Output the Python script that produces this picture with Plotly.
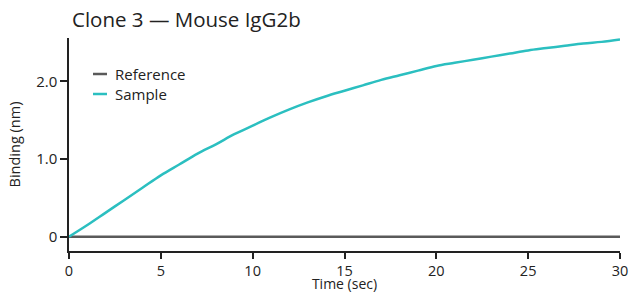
import plotly.graph_objects as go

# Data
time_sec = [0, 1, 2, 3, 4, 5, 6, 7, 8, 9, 10, 11, 12, 13, 14, 15,
            16, 17, 18, 19, 20, 21, 22, 23, 24, 25, 26, 27, 28, 29, 30]
sample_nm = [0.00, 0.15, 0.31, 0.47, 0.63, 0.79, 0.93, 1.07, 1.19, 1.32,
             1.43, 1.54, 1.64, 1.73, 1.81, 1.88, 1.95, 2.02, 2.08, 2.14,
             2.20, 2.24, 2.28, 2.32, 2.36, 2.40, 2.43, 2.46, 2.49, 2.51, 2.54]
reference_nm = [0.0] * len(time_sec)

series_names = ["Reference", "Sample"]
series_colors = ["#5a5a5a", "#2bbfc0"]

x_ticks = [0, 5, 10, 15, 20, 25, 30]
y_ticks = [0, 1.0, 2.0]
y_tick_labels = ["0", "1.0", "2.0"]

FONT = "'Open Sans', sans-serif"
TEXT = "#222222"

fig = go.Figure()
fig.add_trace(go.Scatter(x=time_sec, y=reference_nm, mode="lines",
                         name=series_names[0], showlegend=False,
                         line=dict(color=series_colors[0], width=2.5)))
fig.add_trace(go.Scatter(x=time_sec, y=sample_nm, mode="lines",
                         name=series_names[1], showlegend=False,
                         line=dict(color=series_colors[1], width=2.5, shape="spline")))

# Custom compact legend (short line swatches)
W, H = 633, 293
ml, mr, mt, mb = 69, 13, 38, 42
pw, ph = W - ml - mr, H - mt - mb
def px(xp):
    return (xp - ml) / pw
def py(yp):
    return (H - mb - yp) / ph

legend_rows = [74, 94]
for name, color, yrow in zip(series_names, series_colors, legend_rows):
    fig.add_shape(type="line", xref="paper", yref="paper",
                  x0=px(93), x1=px(107), y0=py(yrow), y1=py(yrow),
                  line=dict(color=color, width=2.5))
    fig.add_annotation(xref="paper", yref="paper", x=px(113), y=py(yrow),
                       text=name, showarrow=False, xanchor="left", yanchor="middle",
                       font=dict(family=FONT, size=15, color=TEXT))

fig.update_layout(
    width=W, height=H,
    margin=dict(l=ml, r=mr, t=mt, b=mb, autoexpand=False),
    paper_bgcolor="white", plot_bgcolor="white",
    title=dict(text="Clone 3 — Mouse IgG2b", x=72 / W, xanchor="left",
               y=1 - 20 / H, yanchor="middle", yref="container",
               font=dict(family=FONT, size=20.5, color=TEXT)),
    font=dict(family=FONT, size=14, color=TEXT),
    showlegend=False,
)
fig.update_xaxes(range=[0, 30], tickvals=x_ticks, showgrid=False, zeroline=False,
                 automargin=False,
                 showline=True, linecolor="#222222", linewidth=1.5,
                 ticks="outside", ticklen=6, tickwidth=1.5, tickcolor="#222222",
                 title=dict(text="Time (sec)", standoff=1,
                            font=dict(family=FONT, size=14, color=TEXT)),
                 tickfont=dict(family=FONT, size=14.5, color=TEXT))
fig.update_yaxes(range=[-0.185, 2.56], tickvals=y_ticks, ticktext=y_tick_labels,
                 showgrid=False, zeroline=False, automargin=False,
                 showline=True, linecolor="#222222", linewidth=1.5,
                 ticks="outside", ticklen=7, tickwidth=1.5, tickcolor="#222222",
                 title=dict(text="Binding (nm)", standoff=12,
                            font=dict(family=FONT, size=14.5, color=TEXT)),
                 tickfont=dict(family=FONT, size=15, color=TEXT))

fig.write_html("out.html", config={"displayModeBar": False},
               post_script="document.body.style.margin='0';")
